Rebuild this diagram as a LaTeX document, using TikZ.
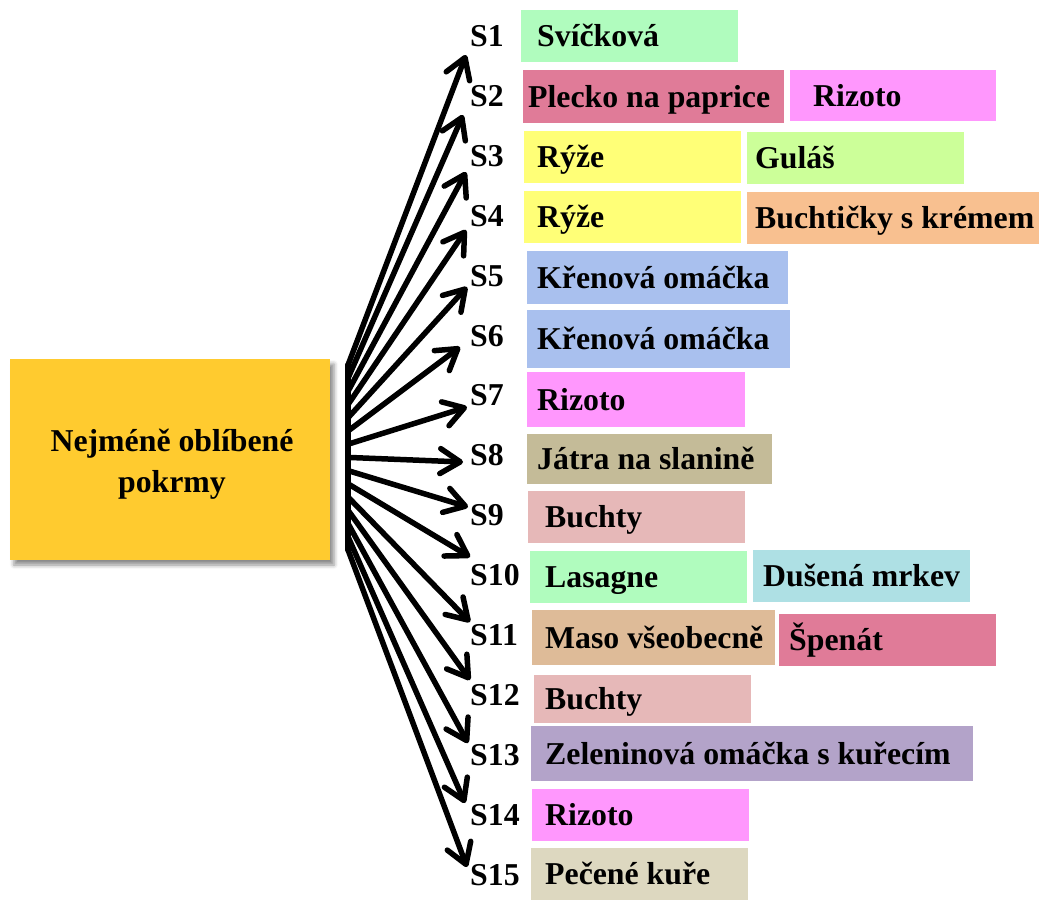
\documentclass[tikz,border=0pt]{standalone}
\usepackage{fontspec}
\setmainfont{Liberation Serif}
\usetikzlibrary{arrows.meta,shadows.blur}

\definecolor{cmain}{HTML}{FFCB2F}
\definecolor{cgreen}{HTML}{B0FCBE}
\definecolor{crose}{HTML}{E07B98}
\definecolor{cpink}{HTML}{FF97FD}
\definecolor{cyellow}{HTML}{FFFF77}
\definecolor{clime}{HTML}{CCFF99}
\definecolor{cpeach}{HTML}{F8C090}
\definecolor{cblue}{HTML}{A9C0EE}
\definecolor{ctan}{HTML}{C4BB98}
\definecolor{cbun}{HTML}{E6B8B8}
\definecolor{ccyan}{HTML}{AEE0E4}
\definecolor{cbeige}{HTML}{DEBB98}
\definecolor{clilac}{HTML}{B3A3C9}
\definecolor{ccream}{HTML}{DDD8C0}

\tikzset{
  txt/.style={font=\fontsize{31.8}{38}\selectfont\bfseries},
  mainbox/.style={txt, fill=cmain, minimum width=320pt, minimum height=201pt,
    align=center, inner sep=0pt,
    blur shadow={shadow xshift=4pt, shadow yshift=-5pt, shadow blur radius=4pt, shadow opacity=45}},
  slabel/.style={txt, anchor=west, inner sep=0pt, text height=21pt, text depth=0pt},
  food/.style={txt, anchor=north west, inner sep=0pt, text height=21pt, text depth=0pt},
  fan/.style={line width=5.5pt, line cap=round, line join=round,
    -{Straight Barb[length=20pt,width=25pt,line cap=round,line join=round]}},
}

\begin{document}
\begin{tikzpicture}[x=1pt,y=-1pt]
\useasboundingbox (0,0) rectangle (1039,900);

% central topic (box and text placed separately so the text can sit a bit low)
\node[mainbox, text height=0pt, text depth=0pt] (main) at (170,459.5) {};
\node[txt, align=center, inner sep=0pt] (maintext) at (172,464) {Nejméně oblíbené\\[3pt]pokrmy};

% S labels
\foreach \k in {1,...,15}
  \node[slabel] (S\k) at (470,{36+(\k-1)*59.9}) {S\k};

% food items: name / left / top / width / height / text offset / colour / text
\foreach \n/\x/\y/\w/\h/\o/\c/\t in {
  1/521/10/217/52/16/cgreen/Svíčková,
  2a/523/70/261/53/5/crose/Plecko na paprice,
  2b/790/70/206/51/23/cpink/Rizoto,
  3a/524/131/217/52/13/cyellow/Rýže,
  3b/747/132/217/52/8/clime/Guláš,
  4a/524/191/217/52/13/cyellow/Rýže,
  4b/747/192/292/52/8/cpeach/Buchtičky s krémem,
  5/527/251/261/53/10/cblue/Křenová omáčka,
  6/527/310/263/58/10/cblue/Křenová omáčka,
  7/527/372/218/55/10/cpink/Rizoto,
  8/527/434/245/50/10/ctan/Játra na slanině,
  9/528/491/217/52/17/cbun/Buchty,
  10a/530/551/217/52/15/cgreen/Lasagne,
  10b/753/550/217/52/10/ccyan/Dušená mrkev,
  11a/532/610/243/55/13/cbeige/Maso všeobecně,
  11b/779/614/217/52/10/crose/Špenát,
  12/534/675/217/48/11/cbun/Buchty,
  13/531/726/442/55/14/clilac/Zeleninová omáčka s kuřecím,
  14/532/789/217/52/13/cpink/Rizoto,
  15/531/848/217/52/14/ccream/Pečené kuře}
  \node[food, fill=\c, minimum height=\h pt] (f\n) at (\x,\y)
    {\hbox to \w pt{\hskip\o pt\t\hss}};

% fan of arrows from the central topic
\foreach \k in {1,...,15}
  \coordinate (s\k) at (348,{365+(\k-1)*13.2});
\foreach \k/\tx/\ty in {1/466/55, 2/463/115, 3/466/172, 4/466/230, 5/467/287,
  6/460/347, 7/467/407, 8/463/462, 9/468/507, 10/470/557, 11/470/622,
  12/470/680, 13/468/743, 14/465/803, 15/467/867}
  \coordinate (t\k) at (\tx,\ty);

\draw[line width=5.5pt, line cap=round] (s1) -- (s15);
\foreach \k in {1,...,15}
  \draw[fan] (s\k) -- (t\k);
\end{tikzpicture}
\end{document}
